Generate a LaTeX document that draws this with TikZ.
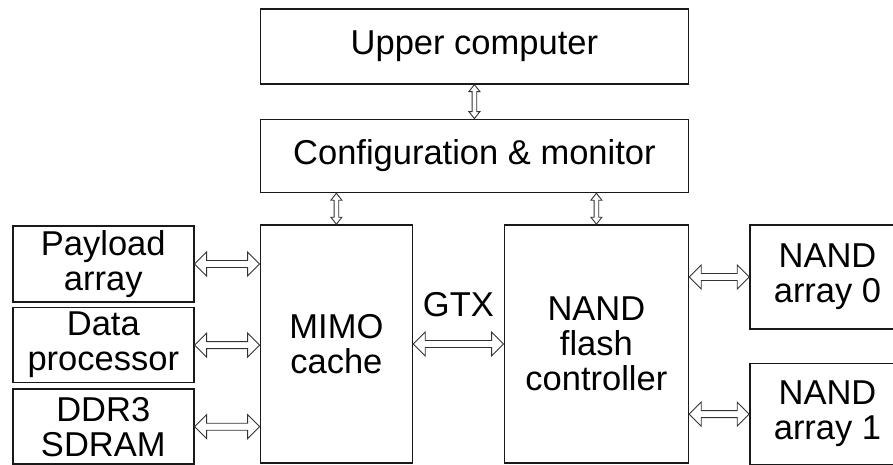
\documentclass[tikz,border=0pt]{standalone}
\usepackage{fontspec}
\setmainfont{Liberation Sans}
\usetikzlibrary{positioning,calc}
\tikzset{
  blk/.style={draw=black!90, line width=1.6pt, align=center, inner sep=2pt,
              font=\fontsize{34.5}{35}\selectfont},
  lbl/.style={font=\fontsize{34.5}{35}\selectfont, inner sep=0pt},
  dblarr/.style n args={3}{draw=black!80, line width=0.9pt, fill=white, line join=miter,
    to path={-- ($(\tikztostart)!#1!(\tikztotarget)!#2!90:(\tikztotarget)$)
             -- ($(\tikztostart)!#1!(\tikztotarget)!#3!90:(\tikztotarget)$)
             -- ($(\tikztotarget)!#1!(\tikztostart)!#3!-90:(\tikztostart)$)
             -- ($(\tikztotarget)!#1!(\tikztostart)!#2!-90:(\tikztostart)$)
             -- (\tikztotarget)
             -- ($(\tikztotarget)!#1!(\tikztostart)!#2!90:(\tikztostart)$)
             -- ($(\tikztotarget)!#1!(\tikztostart)!#3!90:(\tikztostart)$)
             -- ($(\tikztostart)!#1!(\tikztotarget)!#3!-90:(\tikztotarget)$)
             -- ($(\tikztostart)!#1!(\tikztotarget)!#2!-90:(\tikztotarget)$)
             -- cycle}},
  bigarr/.style={dblarr={12pt}{12pt}{3.5pt}},
  smallarr/.style={dblarr={7pt}{5.5pt}{2.3pt}}}

\begin{document}
\begin{tikzpicture}
  \node[blk, minimum width=428pt, minimum height=75pt] (up) {Upper computer};
  \node[blk, minimum width=428pt, minimum height=73pt, below=34pt of up] (cfg) {Configuration \& monitor};
  \node[blk, minimum width=152pt, minimum height=238pt, below right=31pt and 0pt of cfg.south west] (mimo) {MIMO\\cache};
  \node[blk, minimum width=184pt, minimum height=238pt, below left=31pt and 0pt of cfg.south east] (ctrl) {NAND\\flash\\controller};
  \node[blk, minimum width=181pt, minimum height=76pt, below left=1pt and 65pt of mimo.north west] (pay) {Payload\\array};
  \node[blk, minimum width=181pt, minimum height=75pt, below=4pt of pay] (dat) {Data\\processor};
  \node[blk, minimum width=181pt, minimum height=75pt, below=5pt of dat] (ddr) {DDR3\\SDRAM};
  \node[blk, minimum width=155pt, minimum height=104pt, below right=0pt and 60pt of ctrl.north east] (n0) {NAND\\array 0};
  \node[blk, minimum width=155pt, minimum height=101pt, below=33pt of n0] (n1) {NAND\\array 1};
  % links
  \draw[smallarr] (up.south) to (cfg.north);
  \draw[smallarr] (cfg.south -| mimo.north) to (mimo.north);
  \draw[smallarr] (cfg.south -| ctrl.north) to (ctrl.north);
  \draw[bigarr] (pay.east) to (pay.east -| mimo.west);
  \draw[bigarr] (dat.east) to (dat.east -| mimo.west);
  \draw[bigarr] (ddr.east) to (ddr.east -| mimo.west);
  \draw[bigarr] (mimo.east) to (ctrl.west);
  \node[lbl, above=27pt] (gtx) at ($(mimo.east)!0.5!(ctrl.west)$) {GTX};
  \draw[bigarr] (n0.west -| ctrl.east) to (n0.west);
  \draw[bigarr] (n1.west -| ctrl.east) to (n1.west);
  \coordinate (tl) at ($(pay.west |- up.north)+(-12pt,8pt)$);
  \pgfresetboundingbox
  \useasboundingbox (tl) rectangle ++(893pt,-464pt);
\end{tikzpicture}
\end{document}
